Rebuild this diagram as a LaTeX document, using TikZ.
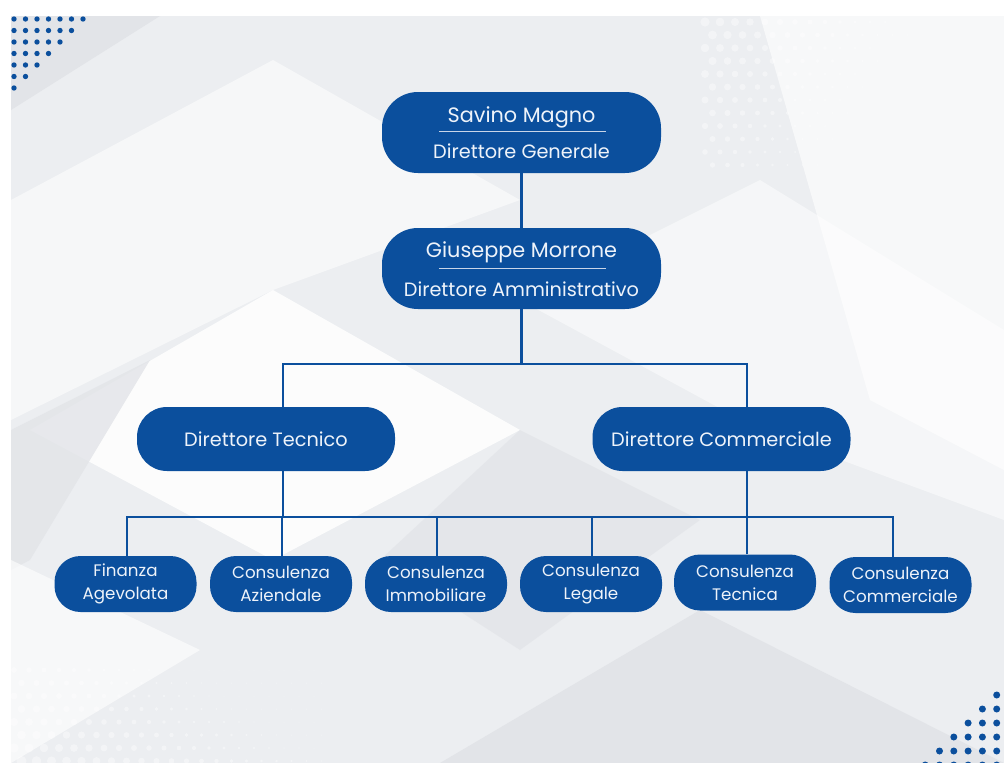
\documentclass[tikz,border=0pt]{standalone}
\usepackage{fontspec}
\setmainfont{Poppins}
\definecolor{navy}{HTML}{0B4F9D}
\definecolor{txt}{HTML}{EEF3FA}
\definecolor{bgbase}{HTML}{ECEEF1}
\definecolor{bgdark}{HTML}{E2E4E8}
\definecolor{sepc}{HTML}{C8D5E8}
\tikzset{
  topbox/.style={fill=navy, rounded corners=36pt, minimum width=279pt, minimum height=81pt, inner sep=0pt},
  midbox/.style={fill=navy, rounded corners=30pt, minimum width=258pt, minimum height=64pt, inner sep=0pt,
     text=txt, font=\fontsize{19.3}{22}\selectfont},
  lowbox/.style={fill=navy, rounded corners=26pt, minimum width=142pt, minimum height=56pt, inner sep=0pt,
     text=txt, align=center, font=\fontsize{16.7}{23}\selectfont},
  nametext/.style={text=txt, inner sep=0pt, anchor=base, font=\fontsize{20.8}{24}\selectfont},
  roletext/.style={text=txt, inner sep=0pt, anchor=base, font=\fontsize{19.3}{22}\selectfont},
  sepline/.style={draw=sepc, line width=1.2pt},
  conn/.style={draw=navy, line width=2.8pt},
  bluedot/.style={fill=navy},
  halfdot/.style={fill=white, opacity=0.4},
}
\begin{document}
\begin{tikzpicture}[x=1pt,y=-1pt]
\useasboundingbox (0,0) rectangle (1004,763);
\fill[white] (0,0) rectangle (1004,763);
% background facets
\fill[bgbase] (11,16) rectangle (1004,763);
\fill[bgdark] (11,16) -- (160,16) -- (11,110) -- cycle;
\fill[white, opacity=0.55] (11,200) -- (273,60) -- (520,200) -- (273,290) -- (11,420) -- cycle;
\fill[white, opacity=0.85] (273,290) -- (520,430) -- (273,560) -- (30,430) -- cycle;
\fill[bgdark, opacity=0.8] (11,430) -- (150,360) -- (30,560) -- (11,570) -- cycle;
\fill[white, opacity=0.6] (760,16) -- (1004,16) -- (1004,470) -- (870,400) -- cycle;
\fill[bgdark] (440,763) -- (700,610) -- (1004,763) -- cycle;
\fill[white, opacity=0.5] (520,300) -- (760,180) -- (1004,330) -- (1004,520) -- (760,430) -- cycle;
\fill[bgdark, opacity=0.7] (520,430) -- (700,520) -- (520,650) -- (380,560) -- cycle;
\fill[white, opacity=0.6] (11,560) -- (200,650) -- (11,763) -- cycle;
% halftone dots top right
\foreach \r in {0,...,11}{
  \foreach \c in {0,...,14}{
    \pgfmathsetmacro{\xx}{705+\c*15+mod(\r,2)*7.5}
    \pgfmathsetmacro{\yy}{22+\r*13}
    \pgfmathsetmacro{\rad}{max(0.5,4.6-\c*0.3-\r*0.18)}
    \fill[halfdot] (\xx,\yy) circle (\rad);
  }
}
% halftone dots bottom left
\foreach \r in {0,...,7}{
  \foreach \c in {0,...,20}{
    \pgfmathsetmacro{\xx}{14+\c*15+mod(\r,2)*7.5}
    \pgfmathsetmacro{\yy}{670+\r*13}
    \pgfmathsetmacro{\rad}{max(0.5,5-\c*0.22-(7-\r)*0.3)}
    \fill[halfdot] (\xx,\yy) circle (\rad);
  }
}
% blue dot corners
\foreach \r in {0,...,6}{
  \pgfmathtruncatemacro{\n}{6-\r}
  \foreach \c in {0,...,\n}{
    \fill[bluedot] (14+\c*11.5,19+\r*11.5) circle (2.7);
  }
}
\foreach \r in {0,...,5}{
  \foreach \c in {0,...,\r}{
    \fill[bluedot] (996.7-\c*14.3,695+\r*14) circle (3.5);
  }
}
% nodes
\node[topbox] (sm) at (521.5,132.5) {};
\node[nametext] (smn) at (521.5,122.5) {Savino Magno};
\node[roletext] (smr) at (521.5,158) {Direttore Generale};
\draw[sepline] (439,131.5) -- (606,131.5);
\node[topbox] (gm) at (521.5,268.5) {};
\node[nametext] (gmn) at (521.5,257) {Giuseppe Morrone};
\node[roletext] (gmr) at (521.5,296.5) {Direttore Amministrativo};
\draw[sepline] (439,268.5) -- (606,268.5);
\node[midbox] (dt) at (266,439) {Direttore Tecnico};
\node[midbox] (dc) at (721.5,439) {Direttore Commerciale};
\node[lowbox] (fa) at (125.5,584) {Finanza\\Agevolata};
\node[lowbox] (ca) at (281,584) {Consulenza\\Aziendale};
\node[lowbox] (ci) at (436,584) {Consulenza\\Immobiliare};
\node[lowbox] (cl) at (591,584) {Consulenza\\Legale};
\node[lowbox] (ct) at (745,582.5) {Consulenza\\Tecnica};
\node[lowbox] (cc) at (900.5,585) {Consulenza\\Commerciale};
% connectors
\coordinate (b1L) at (283,364);
\coordinate (b1R) at (747,364);
\coordinate (c1) at (127,517);
\coordinate (c2) at (282,517);
\coordinate (c3) at (437,517);
\coordinate (c4) at (592,517);
\coordinate (c5) at (747,517);
\coordinate (c6) at (893,517);
\draw[conn] (sm.south) -- (gm.north);
\draw[conn] (gm.south) -- (gm.south |- b1L);
\draw[conn, line join=miter] (dt.north -| b1L) -- (b1L) -- (b1R) -- (dc.north -| b1R);
\draw[conn] (dt.south -| b1L) -- (b1L |- c1);
\draw[conn] (dc.south -| b1R) -- (b1R |- c1);
\draw[conn, line join=miter] (fa.north -| c1) -- (c1) -- (c6) -- (cc.north -| c6);
\draw[conn] (ca.north -| c2) -- (c2);
\draw[conn] (ci.north -| c3) -- (c3);
\draw[conn] (cl.north -| c4) -- (c4);
\draw[conn] (ct.north -| c5) -- (c5);
\end{tikzpicture}
\end{document}
